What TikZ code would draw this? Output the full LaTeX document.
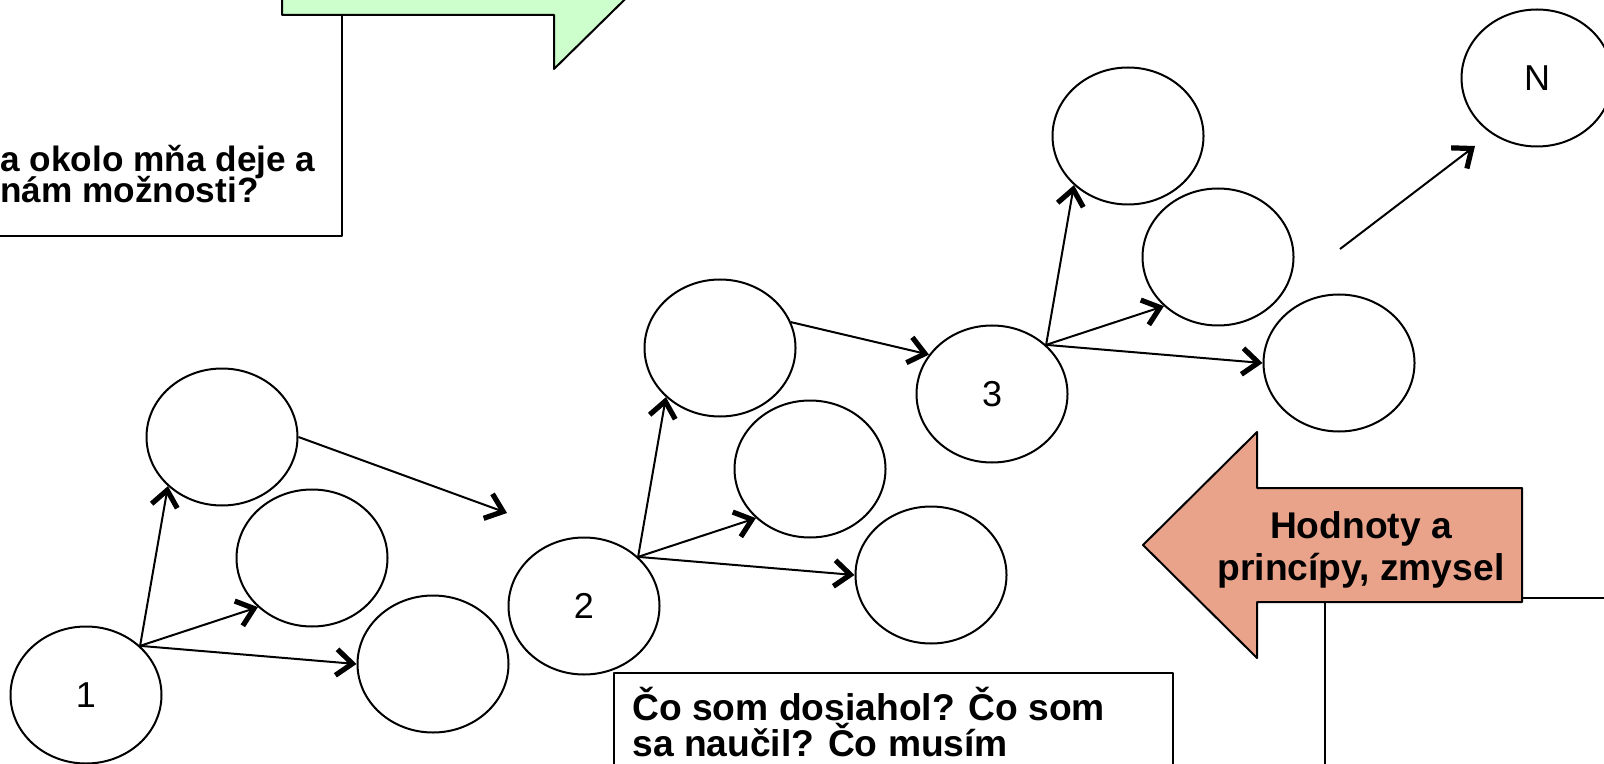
\documentclass[tikz,border=0pt]{standalone}
\usepackage{fontspec}
\setmainfont{Liberation Sans}
\usetikzlibrary{shapes.geometric,arrows.meta}

\definecolor{arrowgreen}{RGB}{204,255,204}
\definecolor{arrowred}{RGB}{233,163,139}
\newcommand\tightlines{\setlength\lineskiplimit{-40pt}}

\begin{document}
\begin{tikzpicture}[x=0.5pt,y=-0.5pt,line join=round,
    bubble/.style={draw,ellipse,line width=1pt,minimum width=75.5pt,minimum height=68.5pt,
      inner sep=0pt,font=\fontsize{18}{21}\selectfont},
    link/.style={line width=1pt,-{Straight Barb[length=8pt,width=13pt,line width=2.6pt]}},
    boxline/.style={draw,line width=1pt,fill=white},
    txt/.style 2 args={inner sep=0pt,anchor=base west,align=left,
      font=\fontsize{#1}{#2}\selectfont\bfseries\tightlines}]
    \useasboundingbox (0,0) rectangle (1604,764);
    \clip (0,0) rectangle (1604,764);

    % Question box, top left
    \draw[boxline] (-100,-60) rectangle (342,236);
    \node[txt={17.6}{15.5}] (ask) at (0,203) {a okolo mňa deje a\\nám možnosti?};

    % Green block arrow
    \draw[line width=1pt,fill=arrowgreen] (282,-99) -- (554,-99) -- (554,-155) -- (667,-42)
      -- (554,69) -- (554,15) -- (282,15) -- cycle;

    % Question box, bottom
    \draw[boxline] (614,673) rectangle (1173,900);
    \node[txt={18.6}{18}] (done) at (632,756) {Čo som dosiahol? Čo som\\sa naučil? Čo musím};

    % Box behind the red arrow
    \draw[boxline] (1325,598) rectangle (1700,900);

    % Red block arrow
    \draw[line width=1pt,fill=arrowred] (1143,545) -- (1257,432) -- (1257,488) -- (1522,488)
      -- (1522,602) -- (1257,602) -- (1257,658) -- cycle;
    \node[txt={18.6}{21},anchor=base,align=center] (values) at (1361,580)
      {Hodnoty a\\princípy, zmysel};

    % Steps with their choices
    \foreach \i/\px/\py in {1/86/695, 2/584/606, 3/992/394} {
      \begin{scope}[shift={(\px,\py)}]
        \node[bubble] (n\i) at (0,0) {\i};
        \node[bubble] (a\i) at (136,-258) {};
        \node[bubble] (b\i) at (226,-137) {};
        \node[bubble] (c\i) at (347,-31) {};
      \end{scope}
      \foreach \t/\ang in {a/south west, b/south west, c/west}
        \draw[link] (n\i.north east) -- (\t\i.\ang);
    }

    % Going on to the next step
    \coordinate (toTwo) at (507,513);
    \draw[link] (a1.east) -- (toTwo);
    \draw[link] (a2.20) -- (n3.148);

    \node[bubble] (nN) at (1537,78) {N};
    \coordinate (fromThree) at (1340,249);
    \coordinate (toN) at (1475,146);
    \draw[link] (fromThree) -- (toN);
  \end{tikzpicture}
\end{document}
